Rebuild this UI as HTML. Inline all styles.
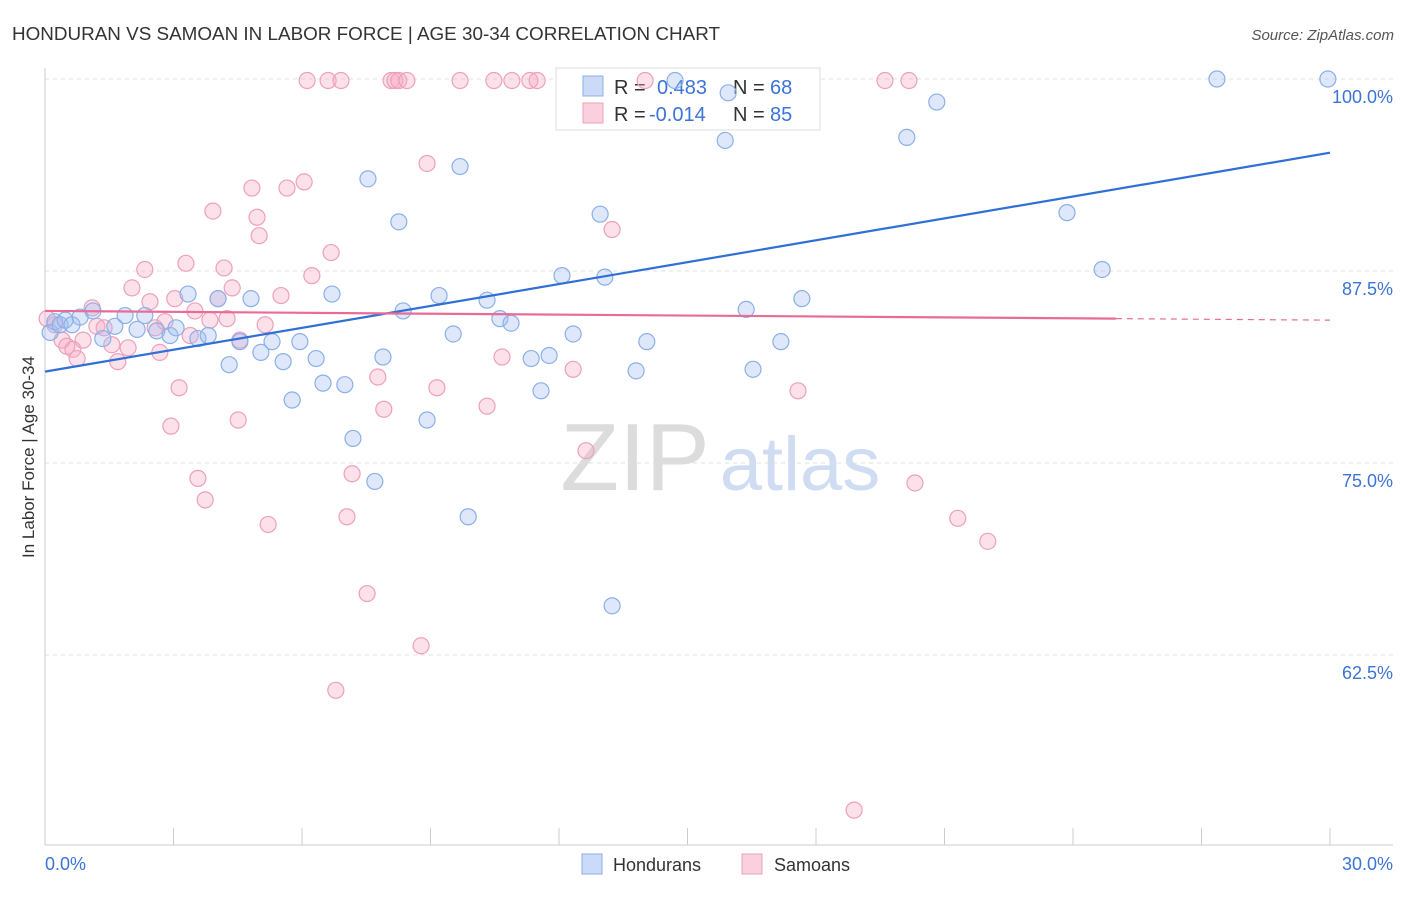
<!DOCTYPE html>
<html><head><meta charset="utf-8">
<style>
body{margin:0;background:#fff;font-family:"Liberation Sans",sans-serif;}
svg text{font-family:"Liberation Sans",sans-serif;}
</style></head>
<body>
<svg id="chart" width="1406" height="892" viewBox="0 0 1406 892">
<text x="12" y="40" font-size="18" fill="#333" textLength="708" lengthAdjust="spacingAndGlyphs">HONDURAN VS SAMOAN IN LABOR FORCE | AGE 30-34 CORRELATION CHART</text>
<text x="1394" y="40" font-size="15" fill="#555" font-style="italic" text-anchor="end">Source: ZipAtlas.com</text>
<g id="watermark">
<text x="635" y="490" font-size="96" fill="#dcdcdc" text-anchor="middle" font-family="Liberation Serif, serif">ZIP</text>
<text x="800" y="490" font-size="76" fill="#cfdcf2" text-anchor="middle">atlas</text>
</g>
<g id="grid"></g>
<g id="axes"></g>
<g>
<rect x="556" y="68" width="264" height="62" fill="#fff" stroke="#ddd"/>
<rect x="583" y="76" width="20" height="20" fill="rgba(160,190,240,0.55)" stroke="#8ab0e8"/>
<text x="614" y="94" font-size="20" fill="#333">R = </text><text x="657" y="94" font-size="20" fill="#3b74d6">0.483</text>
<text x="733" y="94" font-size="20" fill="#333">N = </text><text x="770" y="94" font-size="20" fill="#3b74d6">68</text>
<rect x="583" y="103" width="20" height="20" fill="rgba(245,170,195,0.55)" stroke="#eea0bb"/>
<text x="614" y="121" font-size="20" fill="#333">R = </text><text x="649" y="121" font-size="20" fill="#3b74d6">-0.014</text>
<text x="733" y="121" font-size="20" fill="#333">N = </text><text x="770" y="121" font-size="20" fill="#3b74d6">85</text>
</g>
<g id="points"></g>
<g id="trends"></g>
<text transform="translate(34,457) rotate(-90)" font-size="17" fill="#333" text-anchor="middle">In Labor Force | Age 30-34</text>
<g>
<rect x="582" y="854" width="20" height="20" fill="rgba(160,190,240,0.55)" stroke="#8ab0e8"/>
<text x="613" y="871" font-size="18" fill="#333">Hondurans</text>
<rect x="742" y="854" width="20" height="20" fill="rgba(245,170,195,0.55)" stroke="#eea0bb"/>
<text x="774" y="871" font-size="18" fill="#333">Samoans</text>
</g>
</svg>
<script>
const blueX=[0.12,0.23,0.35,0.47,0.63,0.82,1.12,1.35,1.63,1.87,2.15,2.33,2.61,2.92,3.06,3.34,3.57,3.81,4.04,4.30,4.55,4.81,5.04,5.30,5.56,5.77,5.95,6.33,6.49,6.70,7.00,7.19,7.54,7.70,7.89,8.26,8.36,8.92,9.20,9.53,9.69,9.88,10.32,10.62,10.88,11.35,11.58,11.77,12.07,12.33,12.96,13.07,13.24,13.80,14.05,14.71,15.88,15.95,16.37,16.53,17.18,17.67,20.12,20.82,23.86,24.68,27.36,29.95];
const blueY=[83.5,84.2,84.0,84.3,84.0,84.5,84.9,83.1,83.9,84.6,83.7,84.6,83.6,83.3,83.8,86.0,83.1,83.3,85.7,81.4,82.9,85.7,82.2,82.9,81.6,79.1,82.9,81.8,80.2,86.0,80.1,76.6,93.5,73.8,81.9,90.7,84.9,77.8,85.9,83.4,94.3,71.5,85.6,84.4,84.1,81.8,79.7,82.0,87.2,83.4,91.2,87.1,65.7,81.0,82.9,99.9,96.0,99.1,85.0,81.1,82.9,85.7,96.2,98.5,91.3,87.6,100,100];
const pinkX=[0.05,0.23,0.40,0.51,0.65,0.75,0.89,1.10,1.21,1.38,1.56,1.70,1.94,2.03,2.33,2.45,2.57,2.68,2.80,3.03,3.13,2.94,3.29,3.39,3.50,3.57,3.74,3.85,3.92,4.04,4.18,4.25,4.37,4.51,4.55,4.83,4.95,5.00,5.14,5.21,5.51,5.65,6.05,6.12,6.23,6.61,6.68,6.79,6.91,7.05,7.17,7.52,7.77,7.91,8.08,8.17,8.26,8.45,8.78,8.92,9.15,9.69,10.32,10.48,10.67,10.90,11.32,11.49,12.33,12.63,13.24,14.01,17.58,18.89,19.61,20.17,20.31,21.31,22.01];
const pinkY=[84.4,84.0,83.0,82.6,82.4,81.8,83.0,85.1,83.9,83.8,82.7,81.6,82.5,86.4,87.6,85.5,83.8,82.2,84.2,85.7,79.9,77.4,88.0,83.3,84.9,74.0,72.6,84.3,91.4,85.7,87.7,84.4,86.4,77.8,83.0,92.9,91.0,89.8,84.0,71.0,85.9,92.9,93.3,99.9,87.2,99.9,88.7,60.2,99.9,71.5,74.3,66.5,80.6,78.5,99.9,99.9,99.9,99.9,63.1,94.5,79.9,99.9,78.7,99.9,81.9,99.9,99.9,99.9,81.1,75.8,90.2,99.9,79.7,52.4,99.9,99.9,73.7,71.4,69.9];
// trend lines: [value at x=0, value at x=30]
const blueTrend=[80.95,95.2];
const pinkTrend=[84.9,84.3];
const yTicks=[100,87.5,75,62.5];
const yTickLabels=["100.0%","87.5%","75.0%","62.5%"];
const xTicks=[0,3,6,9,12,15,18,21,24,27,30];
const NS='http://www.w3.org/2000/svg';
const sx=v=>45+v/30*1285;
const sy=v=>79+(100-v)*15.36;
function mk(tag,attrs,parent){const e=document.createElementNS(NS,tag);for(const k in attrs)e.setAttribute(k,attrs[k]);parent.appendChild(e);return e;}
const grid=document.getElementById('grid'),axes=document.getElementById('axes'),pts=document.getElementById('points'),tr=document.getElementById('trends');
yTicks.forEach((t,i)=>{
 const l=mk('line',{x1:45,x2:1393,y1:sy(t),y2:sy(t),stroke:'#e0e0e0','stroke-dasharray':'4,4'},grid);
 
 
 const tx=mk('text',{x:1393,y:sy(t)+24,'font-size':18,fill:'#3b74d6','text-anchor':'end'},axes);
 tx.textContent=yTickLabels[i];
 
 
});
let a=mk('line',{x1:45,x2:45,y1:68,y2:845,stroke:'#ccc'},axes);


a=mk('line',{x1:45,x2:1393,y1:845,y2:845,stroke:'#ccc'},axes);


xTicks.forEach(t=>{
 const l=mk('line',{x1:sx(t),x2:sx(t),y1:828,y2:845,stroke:'#ccc'},axes);
 
 
});
let t0=mk('text',{x:45,y:870,'font-size':18,fill:'#3b74d6'},axes);t0.textContent='0.0%';


t0=mk('text',{x:1393,y:870,'font-size':18,fill:'#3b74d6','text-anchor':'end'},axes);t0.textContent='30.0%';


function drawPts(X,Y,fill,stroke,name){
 X.forEach((x,i)=>{
  const c=mk('circle',{cx:sx(x),cy:sy(Y[i]),r:8,fill:fill,stroke:stroke,'stroke-width':1.2},pts);
  
  
 });
}
drawPts(pinkX,pinkY,'rgba(245,170,195,0.35)','#eea0bb','samoan-point');
drawPts(blueX,blueY,'rgba(160,190,240,0.35)','#8ab0e8','honduran-point');
const at=(tl,x)=>tl[0]+(tl[1]-tl[0])*x/30;
let ln=mk('line',{x1:sx(0),y1:sy(at(blueTrend,0)),x2:sx(30),y2:sy(at(blueTrend,30)),stroke:'#2f6fd6','stroke-width':2.2},tr);


ln=mk('line',{x1:sx(0),y1:sy(at(pinkTrend,0)),x2:sx(25),y2:sy(at(pinkTrend,25)),stroke:'#e86c97','stroke-width':2.2},tr);


ln=mk('line',{x1:sx(25),y1:sy(at(pinkTrend,25)),x2:sx(30),y2:sy(at(pinkTrend,30)),stroke:'#e86c97','stroke-width':1.2,'stroke-dasharray':'6,5'},tr);


</script>
</body></html>
